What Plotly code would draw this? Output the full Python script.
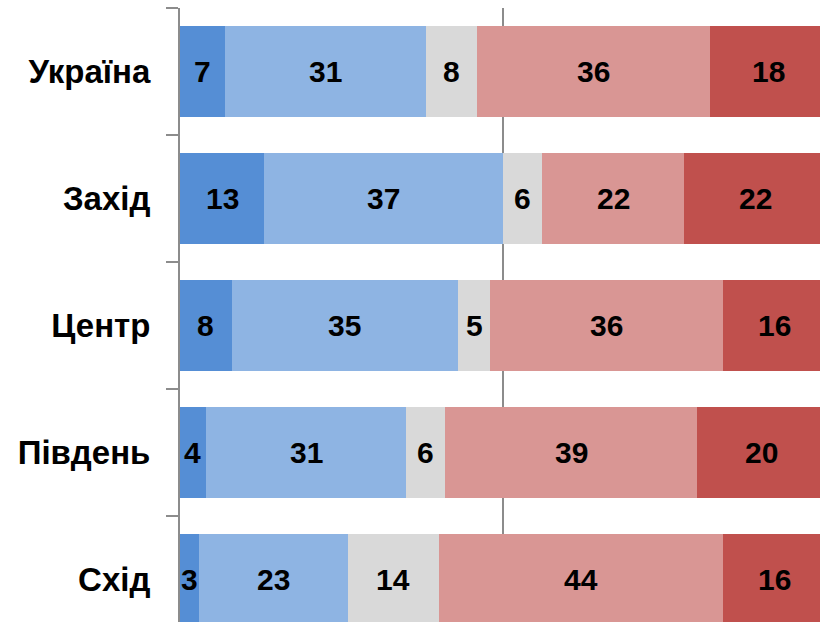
import plotly.graph_objects as go

categories = ["Україна", "Захід", "Центр", "Південь", "Схід"]
s1 = [7, 13, 8, 4, 3]
s2 = [31, 37, 35, 31, 23]
s3 = [8, 6, 5, 6, 14]
s4 = [36, 22, 36, 39, 44]
s5 = [18, 22, 16, 20, 16]
series = [s1, s2, s3, s4, s5]
colors = ["#558ED5", "#8EB4E3", "#D9D9D9", "#D99694", "#C0504D"]

FONT = "Liberation Sans, Arial"

fig = go.Figure()
base = [0] * len(categories)
annotations = []
for vals, col in zip(series, colors):
    fig.add_trace(go.Bar(
        y=categories, x=vals, orientation="h",
        marker=dict(color=col, line=dict(width=0)),
        showlegend=False, hoverinfo="x+y",
    ))
    for i, (cat, v) in enumerate(zip(categories, vals)):
        annotations.append(dict(
            x=base[i] + v / 2, y=cat, xref="x", yref="y",
            text=str(v), showarrow=False,
            font=dict(family=FONT, size=30, color="black", weight="bold"),
        ))
        base[i] += v

fig.update_layout(
    barmode="stack", bargap=0.283,
    width=820, height=622,
    margin=dict(l=180, r=0, t=8, b=0),
    paper_bgcolor="white", plot_bgcolor="white",
    font=dict(family=FONT, color="black"),
    annotations=annotations,
)
fig.update_xaxes(range=[0, 99.0], tickvals=[50], showticklabels=False,
                 showgrid=True, gridcolor="#8c8c8c", gridwidth=1.5,
                 zeroline=False, showline=False, fixedrange=True)
fig.update_yaxes(type="category", categoryorder="array", categoryarray=categories,
                 range=[4.335, -0.5], showline=True, linecolor="#8c8c8c", linewidth=2,
                 ticks="outside", tickson="boundaries", ticklen=12, tickwidth=2,
                 tickcolor="#8c8c8c", showgrid=False,
                 tickfont=dict(family=FONT, size=33, color="black", weight="bold"),
                 ticklabelstandoff=21)

fig.write_html(
    "out.html",
    config={"displayModeBar": False},
    post_script="document.body.style.margin='0';document.body.style.overflow='hidden';",
)
